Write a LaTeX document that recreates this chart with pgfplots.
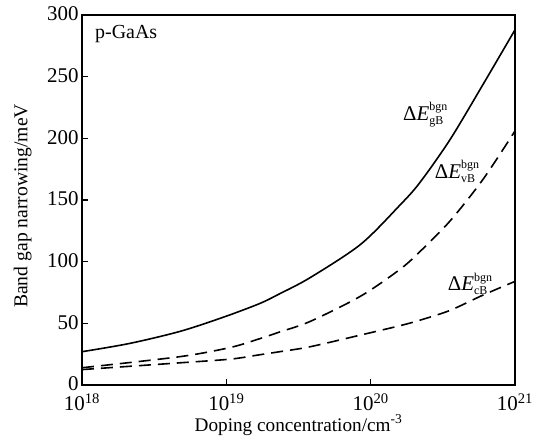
\documentclass[border=0pt]{standalone}
\usepackage{amsmath}
\usepackage{fontspec}
\setmainfont{Liberation Serif}
\usepackage{pgfplots}
\pgfplotsset{compat=1.18}

\newcommand{\bgn}[1]{\text{\fontsize{12}{12}\selectfont #1}}
\newcommand{\dE}[1]{Δ\textit{E}$^{\bgn{bgn}}_{\bgn{#1}}$}

\begin{document}
\begin{tikzpicture}
\begin{axis}[
    scale only axis,
    width=433bp, height=370bp,
    xmin=18, xmax=21,
    ymin=0, ymax=300,
    xtick={18,19,20,21},
    xticklabels={10\textsuperscript{18},10\textsuperscript{19},10\textsuperscript{20},10\textsuperscript{21}},
    ytick={0,50,...,300},
    xtick pos=bottom, ytick pos=left,
    tick align=inside,
    major tick length=6bp,
    axis line style={line width=1.8bp},
    every tick/.style={line width=1.4bp, black},
    tick label style={font=\fontsize{21}{23}\selectfont},
    /pgf/number format/assume math mode=true,
    xticklabel style={yshift=-5bp},
    yticklabel style={yshift=1bp},
    every axis x label/.style={at={(axis description cs:0.5,-0.108)}, anchor=center},
    every axis y label/.style={at={(axis description cs:-0.137,0.484)}, rotate=90, anchor=center},
    xlabel={\fontsize{19.3}{22}\selectfont Doping concentration/cm\textsuperscript{-3}},
    ylabel={\fontsize{19.7}{22}\selectfont Band gap narrowing/meV},
]
% Delta E_gB (solid)
\addplot[black, line width=1.6bp, smooth] coordinates {
    (18,27)(18.33,33.7)(18.68,43.5)(18.98,55)(19.23,66)(19.37,74)(19.58,87)
    (19.93,114)(20.2,145.5)(20.34,164)(20.55,199)(20.78,244)(21,288)
};
% Delta E_vB (dashed)
\addplot[black, line width=1.6bp, smooth, dash pattern=on 12bp off 7bp] coordinates {
    (18,14)(18.68,23)(19.03,30.5)(19.23,37.5)(19.37,43)(19.58,51.5)
    (19.93,72)(20.2,93.5)(20.34,108)(20.55,133)(20.78,167)(21,206)
};
% Delta E_cB (dashed)
\addplot[black, line width=1.6bp, smooth, dash pattern=on 12bp off 7bp] coordinates {
    (18,12.5)(18.68,18)(19.03,21)(19.23,24.5)(19.37,27)(19.58,31)
    (19.93,40.5)(20.2,48)(20.34,52.5)(20.55,60.5)(20.78,73)(21,84)
};
\node[anchor=north west, inner sep=0pt, font=\fontsize{20}{22}\selectfont]
    at (rel axis cs:0.03,0.972) {p-GaAs};
\node[font=\fontsize{21}{23}\selectfont] at (axis cs:20.38,219) {\dE{gB}};
\node[font=\fontsize{21}{23}\selectfont] at (axis cs:20.6,173) {\dE{vB}};
\node[font=\fontsize{21}{23}\selectfont] at (axis cs:20.69,82) {\dE{cB}};
\coordinate (sw) at (rel axis cs:0,0);
\coordinate (ne) at (rel axis cs:1,1);
\end{axis}
\pgfresetboundingbox
\path ([xshift=-82bp,yshift=-55bp]sw) rectangle ([xshift=30bp,yshift=15bp]ne);
\end{tikzpicture}
\end{document}
